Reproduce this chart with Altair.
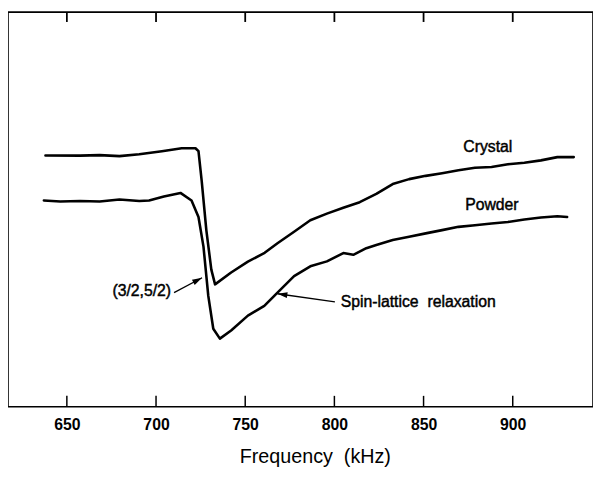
import math
import altair as alt
import pandas as pd

# ---- data (frequency in kHz, signal in arbitrary units) ----
crystal_f = [638.0, 657.4, 668.4, 679.5, 690.6, 703.3, 714.4, 722.1, 723.8, 725.6,
             728.2, 731.0, 733.1, 742.1, 751.5, 760.9, 768.1, 777.4, 786.5, 795.8,
             805.0, 814.2, 823.5, 832.7, 841.9, 851.2, 860.4, 869.6, 878.8, 888.1,
             897.3, 906.5, 915.8, 925.0, 934.2]
crystal_s = [254.7, 254.5, 255.0, 254.0, 256.0, 259.0, 262.0, 262.0, 259.0, 229.0,
             179.0, 139.0, 124.0, 136.0, 147.0, 156.0, 165.7, 177.3, 189.0, 195.7,
             201.7, 207.3, 215.7, 225.7, 230.7, 234.0, 236.7, 239.7, 242.3, 243.0,
             245.7, 247.3, 249.7, 253.0, 253.0]

powder_f = [637.1, 646.3, 657.4, 668.4, 679.5, 690.6, 696.1, 704.4, 713.7, 719.9,
            723.8, 726.6, 729.3, 732.1, 735.8, 742.1, 751.5, 760.7, 768.1, 777.4,
            786.5, 795.8, 805.0, 810.6, 817.9, 823.5, 832.7, 841.9, 851.2, 860.4,
            869.6, 878.8, 888.1, 897.3, 906.5, 915.8, 925.0, 930.5]
powder_s = [209.0, 208.0, 208.5, 208.0, 210.0, 208.5, 209.0, 213.0, 216.7, 209.0,
            192.3, 162.3, 112.3, 79.0, 69.0, 77.3, 92.3, 102.3, 115.7, 132.3,
            142.3, 147.3, 155.7, 154.0, 160.7, 164.0, 169.0, 172.3, 175.7, 179.0,
            182.3, 184.0, 185.7, 187.3, 189.7, 191.7, 193.0, 192.3]

tick_values = [650, 700, 750, 800, 850, 900]

label_text = ["Crystal", "Powder"]
label_f = [886.0, 888.3]
label_s = [263.0, 204.5]

note_text = ["(3/2,5/2)", "Spin-lattice\u00a0\u00a0relaxation"]
note_f = [692.0, 803.5]
note_s = [117.3, 105.7]
note_align = ["center", "left"]

arrow_f0 = [710.1, 800.3]
arrow_s0 = [115.7, 106.3]
arrow_f1 = [725.8, 768.1]
arrow_s1 = [130.7, 114.5]

# ---- layout ----
X_DOMAIN = [617, 945]
Y_DOMAIN = [0, 400]
W, H = 593, 400
FONT = "Liberation Sans"

curves = pd.DataFrame(
    [{"f": f, "s": s, "series": "Crystal"} for f, s in zip(crystal_f, crystal_s)]
    + [{"f": f, "s": s, "series": "Powder"} for f, s in zip(powder_f, powder_s)]
)

px_per_f = W / (X_DOMAIN[1] - X_DOMAIN[0])
px_per_s = H / (Y_DOMAIN[1] - Y_DOMAIN[0])
angles = []
for a0, b0, a1, b1 in zip(arrow_f0, arrow_s0, arrow_f1, arrow_s1):
    dx = (a1 - a0) * px_per_f
    dy = -(b1 - b0) * px_per_s
    angles.append(math.degrees(math.atan2(dy, dx)) % 360)
arrows = pd.DataFrame({"f0": arrow_f0, "s0": arrow_s0, "f1": arrow_f1,
                       "s1": arrow_s1, "ang": angles})

xscale = alt.Scale(domain=X_DOMAIN, nice=False, zero=False)
yscale = alt.Scale(domain=Y_DOMAIN, nice=False, zero=False)

xaxis = alt.Axis(values=tick_values, ticks=False, domain=False, grid=False,
                 labelFontSize=16, labelFont=FONT, labelColor="black",
                 labelFontWeight="bold",
                 labelPadding=10, labelFlush=False,
                 title="Frequency\u00a0\u00a0(kHz)", titleFont=FONT, titleFontSize=20,
                 titleFontWeight="normal", titleColor="black",
                 titlePadding=15, titleX=311)

lines = alt.Chart(curves).mark_line(color="black", strokeWidth=2.6,
                                    strokeJoin="round", strokeCap="round").encode(
    x=alt.X("f:Q", scale=xscale, axis=xaxis),
    y=alt.Y("s:Q", scale=yscale, axis=None),
    detail="series:N",
    order=alt.Order("f:Q"),
)

ticks_df = pd.DataFrame({"t": tick_values})
bottom_ticks = alt.Chart(ticks_df).mark_rule(color="black", strokeWidth=1.5).encode(
    x=alt.X("t:Q", scale=xscale),
    y=alt.value(H), y2=alt.value(H - 11),
)
top_ticks = alt.Chart(ticks_df).mark_rule(color="black", strokeWidth=1.8).encode(
    x=alt.X("t:Q", scale=xscale),
    y=alt.value(0), y2=alt.value(10),
)

text_style = dict(font=FONT, fontSize=16, color="black", baseline="middle",
                  stroke="black", strokeWidth=0.45)

labels = alt.Chart(pd.DataFrame({"t": label_text, "f": label_f, "s": label_s})).mark_text(
    align="center", **text_style
).encode(x=alt.X("f:Q", scale=xscale), y=alt.Y("s:Q", scale=yscale), text="t:N")

notes_df = pd.DataFrame({"t": note_text, "f": note_f, "s": note_s, "al": note_align})
note_c = alt.Chart(notes_df[notes_df.al == "center"]).mark_text(
    align="center", **text_style
).encode(x=alt.X("f:Q", scale=xscale), y=alt.Y("s:Q", scale=yscale), text="t:N")
note_l = alt.Chart(notes_df[notes_df.al == "left"]).mark_text(
    align="left", **text_style
).encode(x=alt.X("f:Q", scale=xscale), y=alt.Y("s:Q", scale=yscale), text="t:N")

arrow_lines = alt.Chart(arrows).mark_rule(color="black", strokeWidth=1.3).encode(
    x=alt.X("f0:Q", scale=xscale), y=alt.Y("s0:Q", scale=yscale),
    x2="f1:Q", y2="s1:Q",
)
arrow_heads = alt.Chart(arrows).mark_point(
    shape="M0,0 L-1,-0.3 L-1,0.3 Z", filled=True, color="black", size=400, opacity=1
).encode(
    x=alt.X("f1:Q", scale=xscale), y=alt.Y("s1:Q", scale=yscale),
    angle=alt.Angle("ang:Q", scale=None),
)

chart = alt.layer(
    lines, bottom_ticks, top_ticks, labels, note_c, note_l, arrow_lines, arrow_heads
).properties(
    width=W, height=H,
    autosize=alt.AutoSizeParams(type="none"),
    padding={"left": 0, "top": 1, "right": 0, "bottom": 61},
    background="white",
).configure_view(stroke="black", strokeWidth=1.6)

chart.save("out.html", embed_options={"renderer": "svg", "actions": False})
